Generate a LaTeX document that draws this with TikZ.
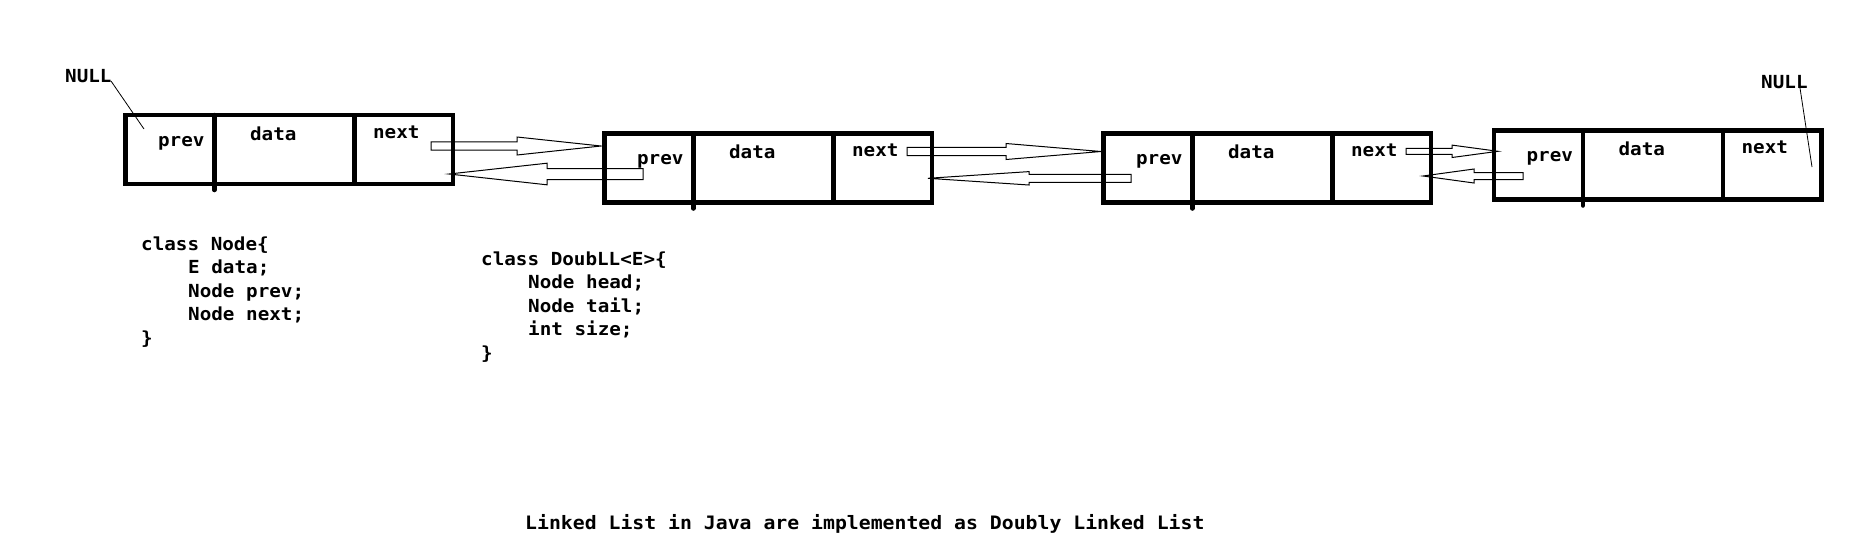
\documentclass[tikz,border=0pt]{standalone}
\usepackage{fontspec}
\usetikzlibrary{calc}
\newfontfamily\codefont[FakeStretch=1.07]{DejaVu Sans Mono}
\tikzset{
  cell/.style={draw=black, line width=4.5pt, minimum width=327.5pt, minimum height=69pt, inner sep=0pt, outer sep=0pt},
  divider/.style={line width=4.5pt},
  tickline/.style={line width=4.5pt, line cap=round},
  lbl/.style={anchor=base, inner sep=0pt, font=\codefont\bfseries\fontsize{18pt}{20pt}\selectfont},
  code/.style={anchor=base west, inner sep=0pt, font=\codefont\bfseries\fontsize{18pt}{20pt}\selectfont},
  caption/.style={anchor=base west, inner sep=0pt, font=\codefont\bfseries\fontsize{18.5pt}{20pt}\selectfont},
  hollow/.style={draw=black, line width=1pt, line join=miter},
  nullline/.style={draw=black, line width=0.8pt}
}
% #1 start x, #2 head base x, #3 tip x, #4 centre y, #5 shaft half width, #6 head half width
\newcommand\hollowarrow[6]{%
  \draw[hollow] ({#1},{#4-#5}) -- ({#2},{#4-#5}) -- ({#2},{#4-#6}) -- ({#3},{#4})
    -- ({#2},{#4+#6}) -- ({#2},{#4+#5}) -- ({#1},{#4+#5}) -- cycle;}
\newcommand\listcell[3]{% name, centre x, centre y
  \node[cell] (#1) at (#2,#3) {};
  \draw[divider] ($(#1.north west)+(89,0)$) -- ($(#1.south west)+(89,0)$);
  \draw[tickline] ($(#1.north west)+(89,0)$) -- ($(#1.south west)+(89,6)$);
  \draw[divider] ($(#1.north west)+(229,0)$) -- ($(#1.south west)+(229,0)$);
  \node[lbl] (#1-prev) at ($(#1.north west)+(56,31)$) {prev};
  \node[lbl] (#1-data) at ($(#1.north west)+(148,25)$) {data};
  \node[lbl] (#1-next) at ($(#1.north west)+(271,23)$) {next};
}
\begin{document}
\begin{tikzpicture}[x=1pt,y=-1pt]
\fill[white] (0,0) rectangle (1872,550);
\useasboundingbox (0,0) rectangle (1872,550);

\listcell{b1}{289}{149.5}
\listcell{b2}{768}{168}
\listcell{b3}{1267}{168}
\listcell{b4}{1657.5}{165}

% NULL markers
\node[code] (nullL) at (65,82.5) {NULL};
\coordinate (nullLend) at (144,129);
\draw[nullline] (111,81) -- (nullLend);
\node[code] (nullR) at (1761,88) {NULL};
\coordinate (nullRend) at (1812,167);
\draw[nullline] (1800,88) -- (nullRend);

% links
\hollowarrow{431}{517}{601}{146}{4.2}{9}
\hollowarrow{643}{547}{449}{174}{5.5}{10.8}
\hollowarrow{907}{1006}{1101}{151.5}{4.2}{8}
\hollowarrow{1131}{1029}{928}{178.3}{4}{6.7}
\hollowarrow{1406}{1452}{1498}{151.3}{3}{6.2}
\hollowarrow{1523}{1474}{1423}{176}{3.5}{7}

% class Node
\node[code] (n1) at (141,250) {class Node\{};
\node[code] (n2) at (188,273.5) {E data;};
\node[code] (n3) at (188,297) {Node prev;};
\node[code] (n4) at (188,320.5) {Node next;};
\node[code] (n5) at (141,344) {\}};

% class DoubLL
\node[code] (d1) at (481,265) {class DoubLL<E>\{};
\node[code] (d2) at (528,288.6) {Node head;};
\node[code] (d3) at (528,312.2) {Node tail;};
\node[code] (d4) at (528,335.8) {int size;};
\node[code] (d5) at (481,359.4) {\}};

\node[caption] (cap) at (525,529) {Linked List in Java are implemented as Doubly Linked List};
\end{tikzpicture}
\end{document}
